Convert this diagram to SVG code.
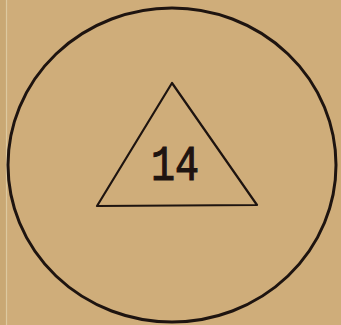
<svg xmlns="http://www.w3.org/2000/svg" width="341" height="325" viewBox="0 0 341 325">
<style>
.ln{fill:none;stroke:#1e1410;stroke-linejoin:round}
.lbl{font-family:"Liberation Mono","DejaVu Sans Mono",monospace;font-size:50px;fill:#1e1410;stroke:#1e1410;stroke-width:1.2;text-anchor:middle}
</style>
<rect width="341" height="325" fill="#cfad7a"/>
<rect x="0" y="0" width="6" height="325" fill="#c9a874"/>
<line x1="6.5" y1="0" x2="6.5" y2="325" stroke="#ddc9a0" stroke-width="1.2"/>
<g id="circle">
<ellipse class="ln" cx="172" cy="165" rx="164" ry="157" stroke-width="3"/>
</g>
<g id="triangle">
<polygon class="ln" points="172,83 97,206 257,205" stroke-width="2.2"/>
<text class="lbl" x="175" y="180" textLength="48" lengthAdjust="spacingAndGlyphs">14</text>
</g>
</svg>
